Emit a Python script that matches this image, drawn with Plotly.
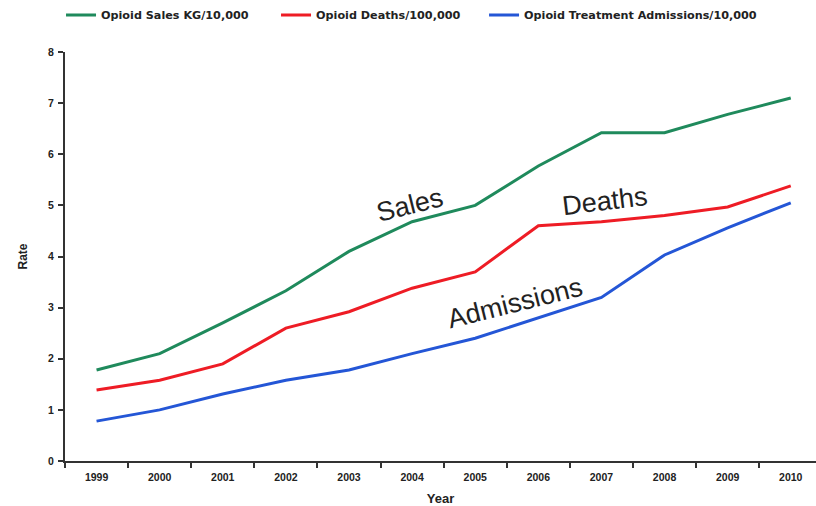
import plotly.graph_objects as go

years = ["1999", "2000", "2001", "2002", "2003", "2004", "2005", "2006", "2007", "2008", "2009", "2010"]
sales = [1.78, 2.1, 2.7, 3.33, 4.1, 4.68, 5.0, 5.77, 6.42, 6.42, 6.78, 7.1]
deaths = [1.39, 1.58, 1.9, 2.6, 2.92, 3.38, 3.7, 4.6, 4.68, 4.8, 4.97, 5.38]
admissions = [0.78, 1.0, 1.31, 1.58, 1.78, 2.1, 2.4, 2.8, 3.2, 4.03, 4.56, 5.05]
names = ["Opioid Sales KG/10,000", "Opioid Deaths/100,000", "Opioid Treatment Admissions/10,000"]
colors = ["#1f8a5c", "#ee1c25", "#2456d6"]
legend_ids = ["legend", "legend2", "legend3"]
legend_x = [-0.0053, 0.281, 0.558]

fig = go.Figure()
for vals, name, col, lid in zip([sales, deaths, admissions], names, colors, legend_ids):
    fig.add_trace(go.Scatter(x=years, y=vals, name=name, mode="lines", legend=lid,
                             line=dict(color=col, width=3)))

font_fam = "Liberation Sans, Arial, sans-serif"
leg_font = dict(size=11.2, family="DejaVu Sans, sans-serif", color="#222", weight="bold")
legends = {}
for lid, lx in zip(legend_ids, legend_x):
    legends[lid] = dict(orientation="h", x=lx, xanchor="left", y=1.0905, yanchor="middle",
                        font=leg_font, itemwidth=30, bgcolor="rgba(0,0,0,0)")

fig.update_layout(
    width=816, height=506,
    margin=dict(l=65, r=0, t=52, b=45),
    plot_bgcolor="white", paper_bgcolor="white",
    font=dict(family=font_fam, color="#222"),
    showlegend=True,
    xaxis=dict(type="category", range=[-0.5, 11.4], showline=True, linecolor="#333", linewidth=2,
               ticks="outside", ticklen=5, tickcolor="#333", tickwidth=2, tickson="boundaries",
               showgrid=False, zeroline=False, automargin=False, ticklabelstandoff=5,
               tickfont=dict(size=10.5, color="#222", weight="bold"),
               title=dict(text="Year", font=dict(size=13, weight="bold"), standoff=12)),
    yaxis=dict(range=[0, 8], dtick=1, showline=True, linecolor="#333", linewidth=2,
               ticks="outside", ticklen=5, tickcolor="#333", tickwidth=2,
               showgrid=False, zeroline=False, automargin=False, ticklabelstandoff=2,
               tickfont=dict(size=10.5, color="#222", weight="bold"),
               title=dict(text="Rate", font=dict(size=12, weight="bold"), standoff=18)),
    **legends,
)

ann_font = dict(size=27, family=font_fam, color="#222")
for txt, ax, ay, ang in [("Sales", 0.459, 0.626, -14), ("Deaths", 0.719, 0.636, -7),
                         ("Admissions", 0.599, 0.386, -14)]:
    fig.add_annotation(text=txt, xref="paper", yref="paper", x=ax, y=ay,
                       xanchor="center", yanchor="middle",
                       showarrow=False, textangle=ang, font=ann_font)

fig.write_html("out.html", post_script="document.body.style.margin='0';",
               config={"displayModeBar": False})
